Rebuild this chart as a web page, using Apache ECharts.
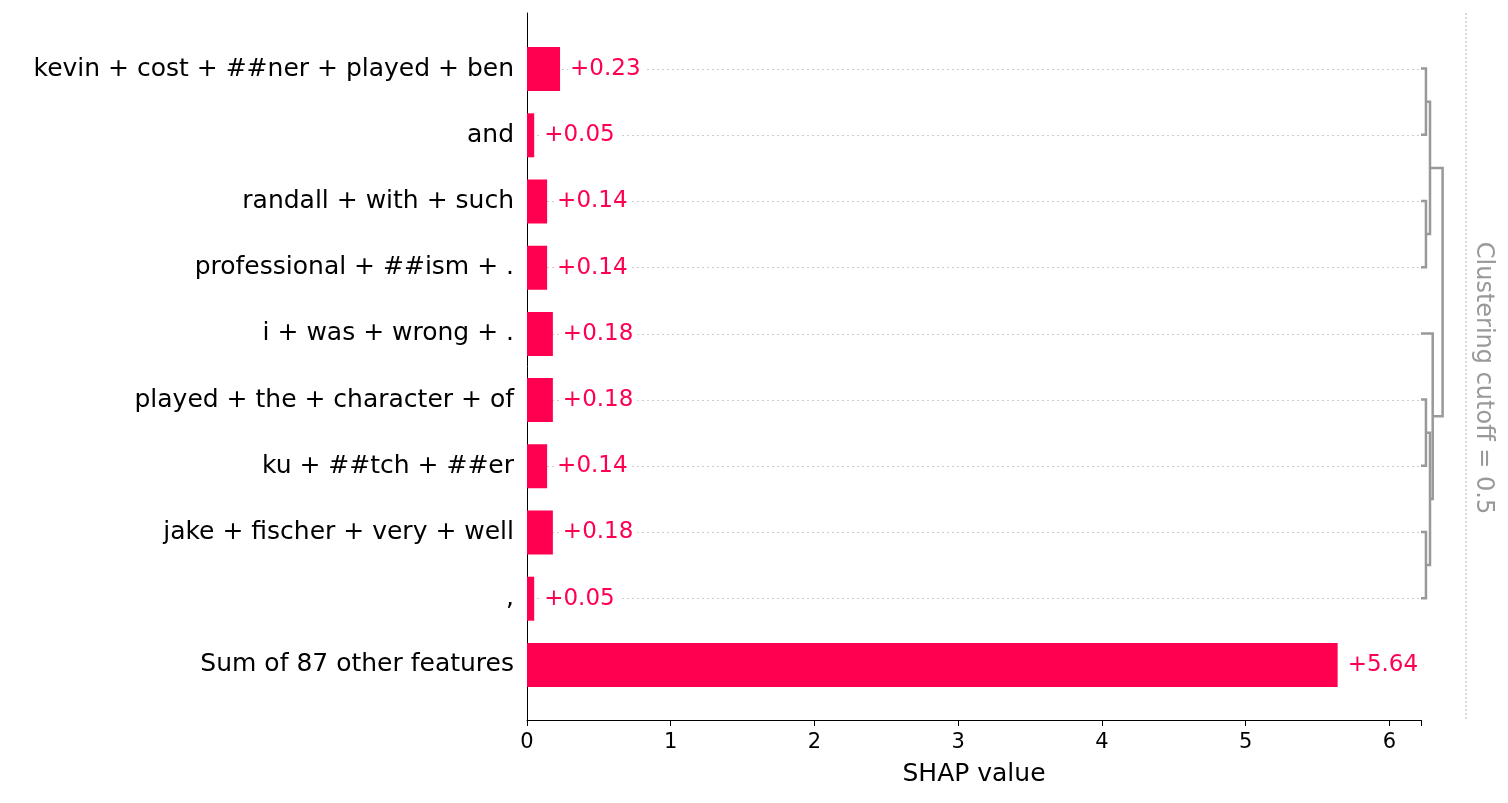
<!DOCTYPE html>
<html>
<head>
<meta charset="utf-8">
<script src="https://cdn.jsdelivr.net/npm/echarts@6/dist/echarts.min.js"></script>
<style>html,body{margin:0;padding:0;background:#fff}#c{width:1508px;height:803px}</style>
</head>
<body>
<div id="c"></div>
<script>
var features = ['kevin + cost + ##ner + played + ben', 'and', 'randall + with + such',
    'professional + ##ism + .', 'i + was + wrong + .', 'played + the + character + of',
    'ku + ##tch + ##er', 'jake + fischer + very + well', ',', 'Sum of 87 other features'];
var shapValues = [0.23, 0.05, 0.14, 0.14, 0.18, 0.18, 0.14, 0.18, 0.05, 5.64];
var xTicks = [0, 1, 2, 3, 4, 5, 6];
// clustering merges: [left, right, distance]; leaves are 0..8, new nodes numbered from 9
var merges = [[0, 1, 0.055], [2, 3, 0.055], [9, 10, 0.10], [5, 6, 0.055],
    [7, 8, 0.055], [12, 13, 0.10], [4, 14, 0.13], [11, 15, 0.24]];
var cutoff = 0.5;

var red = '#ff0051';
var font = 'DejaVu Sans';
var xMax = 6.22;

// positions of nodes for the dendrogram
var pos = [], hgt = [];
for (var i = 0; i < 9; i++) { pos.push(i); hgt.push(0); }
var dendro = [];
merges.forEach(function (m) {
    dendro.push([pos[m[0]], hgt[m[0]], pos[m[1]], hgt[m[1]], m[2]]);
    pos.push((pos[m[0]] + pos[m[1]]) / 2);
    hgt.push(m[2]);
});

var myChart = echarts.init(document.getElementById('c'));
var option = {
    animation: false,
    textStyle: {fontFamily: font},
    grid: [
        {left: 527, right: 87, top: 13, bottom: 83},
        {left: 527, right: 87, top: 36, bottom: 105},
        {left: 1421, right: 42, top: 13, bottom: 83}
    ],
    xAxis: [
        {gridIndex: 0, type: 'value', min: 0, max: xMax, interval: 1,
            name: 'SHAP value', nameLocation: 'middle', nameGap: 42,
            nameTextStyle: {fontSize: 25, color: '#000', fontFamily: font},
            axisLine: {lineStyle: {color: '#000'}},
            axisTick: {length: 6, lineStyle: {color: '#000'}},
            axisLabel: {fontSize: 21, color: '#000', margin: 12, fontFamily: font,
                formatter: function (v) { return xTicks.indexOf(v) >= 0 ? v : ''; }},
            splitLine: {show: false}},
        {gridIndex: 1, type: 'value', min: 0, max: xMax, show: false},
        {gridIndex: 2, type: 'value', min: 0, max: cutoff, show: false}
    ],
    yAxis: [
        {gridIndex: 0, type: 'value', min: 0, max: 1, axisLine: {show: true, lineStyle: {color: '#000'}},
            axisTick: {show: false}, axisLabel: {show: false}, splitLine: {show: false}},
        {gridIndex: 1, type: 'category', data: features, inverse: true,
            axisLine: {show: false}, axisTick: {show: false},
            axisLabel: {fontSize: 25, color: '#000', margin: 13, fontFamily: font}},
        {gridIndex: 2, type: 'value', min: -0.84, max: 9.84, inverse: true, show: false}
    ],
    series: [
        {type: 'bar', xAxisIndex: 1, yAxisIndex: 1, data: shapValues, barWidth: 44,
            itemStyle: {color: red}, z: 3,
            label: {show: true, position: 'right', distance: 8, color: red, fontSize: 23,
                fontFamily: font, backgroundColor: '#fff', padding: [2, 4, 2, 2],
                formatter: function (p) { return '+' + p.value.toFixed(2); }},
            markLine: {silent: true, symbol: 'none', label: {show: false}, z: 1,
                lineStyle: {color: '#cccccc', type: [2, 3], width: 1},
                data: features.slice(0, 9).map(function (f) {
                    return [{coord: [0, f]}, {coord: [xMax, f]}];
                })}
        },
        {type: 'custom', xAxisIndex: 2, yAxisIndex: 2, data: dendro,
            renderItem: function (params, api) {
                var a = api.coord([api.value(1), api.value(0)]);
                var b = api.coord([api.value(4), api.value(0)]);
                var c = api.coord([api.value(4), api.value(2)]);
                var d = api.coord([api.value(3), api.value(2)]);
                return {type: 'polyline', shape: {points: [a, b, c, d]},
                    style: {stroke: '#999999', lineWidth: 2.5, fill: 'none'}};
            },
            markLine: {silent: true, symbol: 'none', label: {show: false},
                lineStyle: {color: '#cccccc', type: [2, 2], width: 1.5},
                data: [{xAxis: cutoff}]}
        }
    ],
    graphic: [{type: 'text', x: 1483, y: 378, rotation: -Math.PI / 2,
        style: {text: 'Clustering cutoff = ' + cutoff, fontSize: 24, fill: '#999999',
            fontFamily: font, align: 'center', verticalAlign: 'middle'}}]
};
myChart.setOption(option);
</script>
</body>
</html>
